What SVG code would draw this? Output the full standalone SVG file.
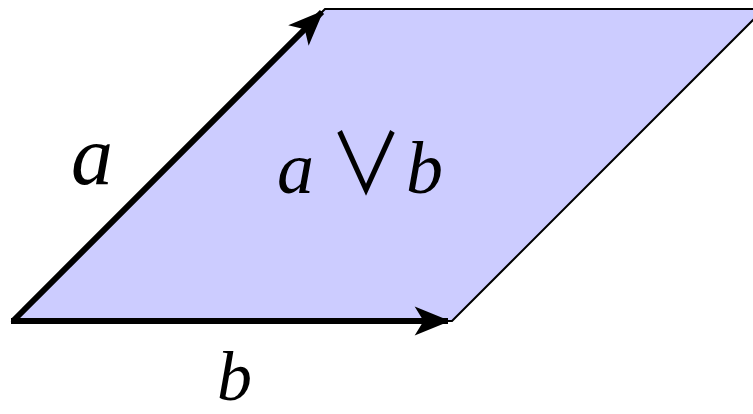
<svg xmlns="http://www.w3.org/2000/svg" width="753" height="414" viewBox="0 0 753 414">
<style>
.lbl{font-family:"Liberation Serif","DejaVu Serif",serif;font-style:italic;fill:#000}
.op{font-family:"Noto Sans CJK SC","DejaVu Sans",sans-serif;font-style:normal;font-weight:400;fill:#000}
</style>
<defs>
<marker id="tip" markerUnits="userSpaceOnUse" markerWidth="40" markerHeight="40" viewBox="-32 -14 36 28" refX="0" refY="0" orient="auto">
<path d="M2,0 L-30,-13 L-22,0 L-30,13 Z" fill="#000"/>
</marker>
</defs>
<g id="area">
<polygon points="13,321 452,321 764,9 325,9" fill="#ccccff" stroke="#000" stroke-width="2"/>
</g>
<g id="connectors">
<line x1="13" y1="321" x2="322" y2="12" stroke="#000" stroke-width="6" marker-end="url(#tip)"/>
<line x1="11" y1="321" x2="448" y2="321" stroke="#000" stroke-width="6" marker-end="url(#tip)"/>
</g>
<g id="label-a"><text class="lbl" x="71" y="184" font-size="84">a</text></g>
<g id="label-b"><text class="lbl" x="217" y="400" font-size="70">b</text></g>
<g id="label-avb">
<text class="lbl" x="277" y="193" font-size="74">a</text>
<text class="op" transform="translate(329,194) scale(0.95,1.08)" font-size="78">∨</text>
<text class="lbl" x="406" y="193" font-size="74">b</text>
</g>
</svg>
